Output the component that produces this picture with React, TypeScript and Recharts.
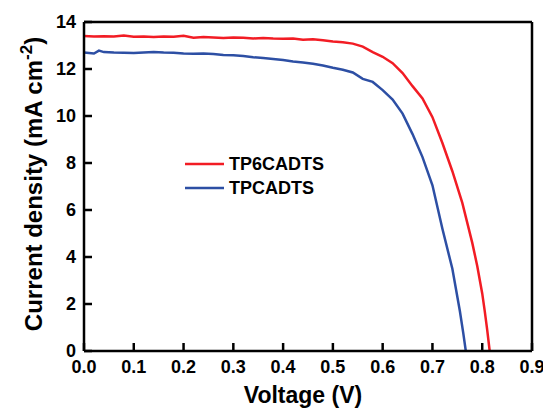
// J-V curves for two devices, TP6CADTS vs TPCADTS
import React from 'react';
import { LineChart, Line, XAxis, YAxis, ReferenceLine, Legend } from 'recharts';

const FONT = '"Liberation Sans", Arial, sans-serif';
const TICK = 8;

const voltageTicks = [0, 0.1, 0.2, 0.3, 0.4, 0.5, 0.6, 0.7, 0.8, 0.9];
const currentTicks = [0, 2, 4, 6, 8, 10, 12, 14];

// TP6CADTS
const voltageRed = [
  0, 0.02, 0.04, 0.06, 0.08, 0.1, 0.12, 0.14, 0.16, 0.18, 0.2, 0.22, 0.24, 0.26, 0.28, 0.3,
  0.32, 0.34, 0.36, 0.38, 0.4, 0.42, 0.44, 0.46, 0.48, 0.5, 0.52, 0.54, 0.56, 0.58, 0.6,
  0.62, 0.64, 0.66, 0.68, 0.7, 0.72, 0.74, 0.76, 0.78, 0.79, 0.8, 0.805, 0.81, 0.815,
];
const currentRed = [
  13.4, 13.38, 13.39, 13.38, 13.42, 13.37, 13.38, 13.36, 13.38, 13.37, 13.41, 13.33, 13.36,
  13.34, 13.32, 13.34, 13.33, 13.3, 13.32, 13.3, 13.29, 13.3, 13.25, 13.27, 13.22, 13.17,
  13.14, 13.08, 12.95, 12.72, 12.52, 12.25, 11.83, 11.27, 10.75, 9.95, 8.85, 7.65, 6.3,
  4.6, 3.62, 2.45, 1.71, 0.9, 0,
];

// TPCADTS
const voltageBlue = [
  0, 0.02, 0.03, 0.04, 0.06, 0.08, 0.1, 0.12, 0.14, 0.16, 0.18, 0.2, 0.22, 0.24, 0.26, 0.28,
  0.3, 0.32, 0.34, 0.36, 0.38, 0.4, 0.42, 0.44, 0.46, 0.48, 0.5, 0.52, 0.54, 0.56, 0.58,
  0.6, 0.62, 0.64, 0.66, 0.68, 0.7, 0.72, 0.74, 0.755, 0.762, 0.767,
];
const currentBlue = [
  12.7, 12.66, 12.78, 12.72, 12.7, 12.69, 12.68, 12.7, 12.72, 12.7, 12.69, 12.66, 12.65,
  12.66, 12.64, 12.6, 12.58, 12.55, 12.5, 12.47, 12.43, 12.38, 12.32, 12.28, 12.22, 12.15,
  12.05, 11.97, 11.85, 11.58, 11.45, 11.1, 10.7, 10.1, 9.23, 8.25, 7.05, 5.2, 3.5, 1.71,
  0.75, 0,
];

const redData = voltageRed.map((v, i) => ({ v, j: currentRed[i] }));
const blueData = voltageBlue.map((v, i) => ({ v, j: currentBlue[i] }));

const RED = '#f21c24';
const BLUE = '#2d4fa4';

// mirrored axes: ticks point into the plot, label position is shifted back outside
function YTick(props: any) {
  const { x, y, payload } = props;
  return (
    <text x={x - TICK - 8} y={y} dy={6} textAnchor="end" fontFamily={FONT} fontWeight="bold" fontSize={18} fill="#000">
      {payload.value}
    </text>
  );
}

function XTick(props: any) {
  const { x, y, payload } = props;
  return (
    <text x={x} y={y + TICK + 22} textAnchor="middle" fontFamily={FONT} fontWeight="bold" fontSize={18} fill="#000">
      {Number(payload.value).toFixed(1)}
    </text>
  );
}

function LegendBox(props: any) {
  const items = props.payload || [];
  return (
    <svg width={140} height={50}>
      {items.map((it: any, i: number) => (
        <g key={it.value} transform={`translate(0, ${12 + i * 24})`}>
          <line x1={0} x2={39} y1={0} y2={0} stroke={it.color} strokeWidth={2.5} />
          <text x={44} y={6} fontFamily={FONT} fontWeight="bold" fontSize={18} fill="#000">
            {it.value}
          </text>
        </g>
      ))}
    </svg>
  );
}

export default function App() {
  return (
    <div style={{ position: 'absolute', left: 0, top: 0, width: 543, height: 408, background: '#fff' }}>
      <LineChart width={543} height={408} margin={{ top: 22, right: 11, bottom: 57, left: 84 }}>
        <XAxis
          dataKey="v"
          type="number"
          domain={[0, 0.9]}
          ticks={voltageTicks}
          mirror
          tickSize={TICK}
          tickMargin={0}
          height={1}
          tick={<XTick />}
          tickLine={{ stroke: '#000', strokeWidth: 2.5 }}
          axisLine={{ stroke: '#000', strokeWidth: 2.5 }}
          allowDuplicatedCategory={false}
          interval={0}
        />
        <YAxis
          type="number"
          domain={[0, 14]}
          ticks={currentTicks}
          mirror
          tickSize={TICK}
          tickMargin={0}
          width={1}
          tick={<YTick />}
          tickLine={{ stroke: '#000', strokeWidth: 2.5 }}
          axisLine={{ stroke: '#000', strokeWidth: 2.5 }}
          interval={0}
        />
        <ReferenceLine y={14} stroke="#000" strokeWidth={2.5} />
        <ReferenceLine x={0.9} stroke="#000" strokeWidth={2.5} />
        <Line data={redData} dataKey="j" name="TP6CADTS" stroke={RED} strokeWidth={2.5} dot={false} isAnimationActive={false} />
        <Line data={blueData} dataKey="j" name="TPCADTS" stroke={BLUE} strokeWidth={2.5} dot={false} isAnimationActive={false} />
        <Legend
          layout="horizontal"
          verticalAlign="middle"
          align="center"
          content={<LegendBox />}
          wrapperStyle={{ position: 'absolute', left: 185, top: 152, width: 140, height: 50 }}
        />
      </LineChart>
      <svg width={543} height={408} style={{ position: 'absolute', left: 0, top: 0, pointerEvents: 'none' }}>
        <text x={303} y={403} textAnchor="middle" fontFamily={FONT} fontWeight="bold" fontSize={23} fill="#000">
          Voltage (V)
        </text>
        <text
          transform="translate(42, 184) rotate(-90)"
          textAnchor="middle"
          fontFamily={FONT}
          fontWeight="bold"
          fontSize={24}
          fill="#000"
        >
          Current density (mA cm<tspan fontSize={17} dy={-10}>-2</tspan><tspan dy={10}>)</tspan>
        </text>
      </svg>
    </div>
  );
}
